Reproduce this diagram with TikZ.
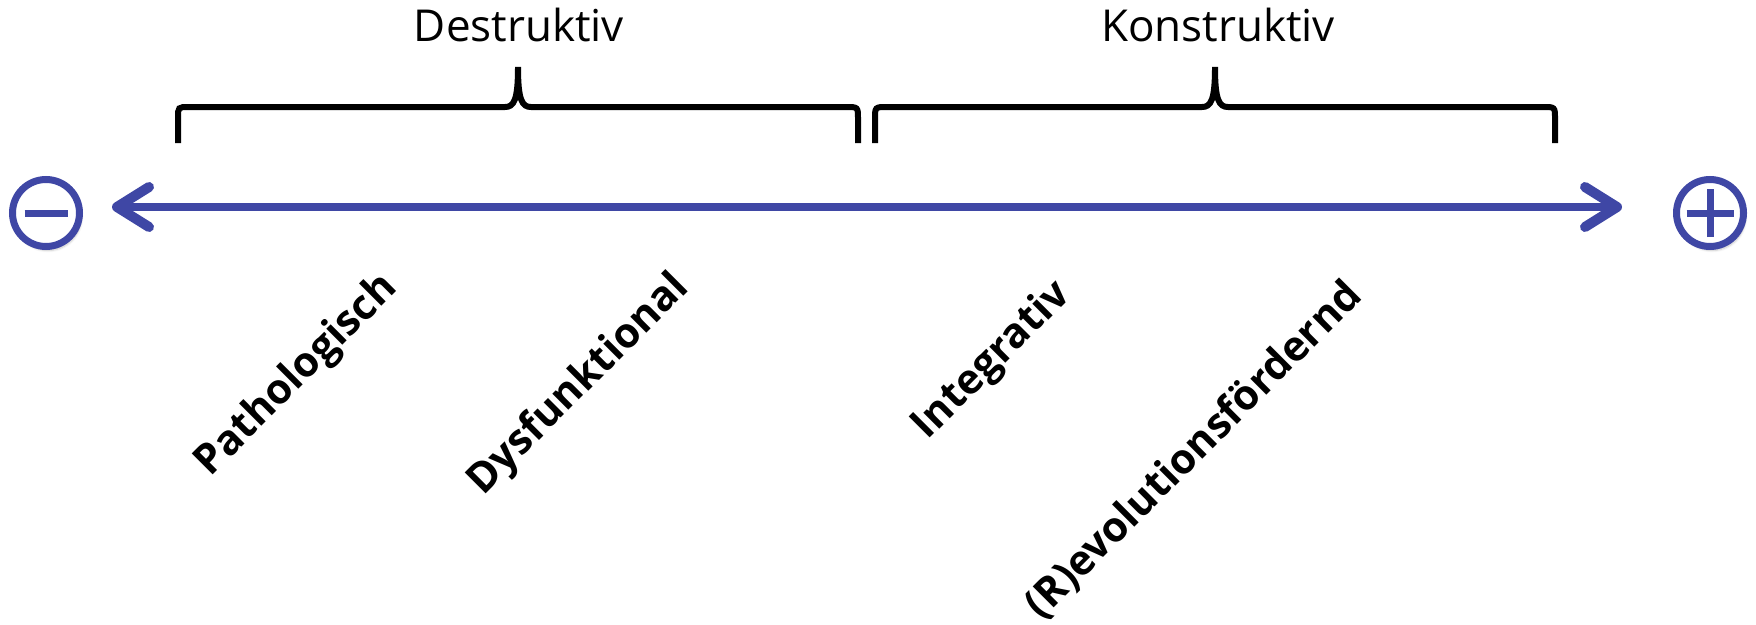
\documentclass[tikz,border=0pt]{standalone}
\usepackage{fontspec}
\setmainfont{Open Sans}
\usetikzlibrary{arrows.meta,shadows.blur}
\definecolor{axisblue}{HTML}{3F47A5}
\begin{document}
\begin{tikzpicture}[x=1pt,y=-1pt,
  sign/.style={circle, draw=axisblue, line width=7pt, fill=white, minimum size=67pt, inner sep=0pt,
    blur shadow={shadow xshift=2pt, shadow yshift=-4pt, shadow blur steps=8, shadow opacity=22}},
  signbar/.style={draw=axisblue, line width=7pt},
  axisline/.style={draw=axisblue, line width=8.5pt,
    {Straight Barb[length=32pt,width=40pt,line width=10pt,round]}-{Straight Barb[length=32pt,width=40pt,line width=10pt,round]}},
  brace/.style={draw=black, line width=6pt},
  group/.style={font=\fontsize{44}{52}\selectfont, anchor=base, inner sep=0pt},
  cat/.style={font=\fontsize{41.5}{48}\selectfont\bfseries, rotate=45, inner sep=0pt}
]
\useasboundingbox (0,0) rectangle (1756,624);

% sign circles
\node[sign] (minus) at (46,213) {};
\node[sign] (plus) at (1710,213) {};
\draw[signbar] ([xshift=-21.5pt]minus.center) -- ([xshift=21.5pt]minus.center);
\draw[signbar] ([xshift=-23.5pt]plus.center) -- ([xshift=23.5pt]plus.center);
\draw[signbar] ([yshift=-24pt]plus.center) -- ([yshift=24pt]plus.center);

% axis
\coordinate (aL) at (112,207);
\coordinate (aR) at (1622,207);
\draw[axisline] (aL) -- (aR);

% braces
\draw[brace] (178,143) -- (178,118) .. controls (178,107) .. (189,107) -- (505,107)
  .. controls (514,107) and (518,100) .. (518,67)
  .. controls (518,100) and (522,107) .. (531,107) -- (846,107)
  .. controls (858,107) .. (858,119) -- (858,143);
\draw[brace] (875,143) -- (875,119) .. controls (875,107) .. (887,107) -- (1202,107)
  .. controls (1211,107) and (1215,100) .. (1215,67)
  .. controls (1215,100) and (1219,107) .. (1228,107) -- (1543,107)
  .. controls (1555,107) .. (1555,119) -- (1555,143);

% group labels
\node[group] (destr) at (519,41) {Destruktiv};
\node[group] (konstr) at (1218,41) {Konstruktiv};

% category labels
\node[cat] (patho) at (297,376) {Pathologisch};
\node[cat] (dysf) at (579,385) {Dysfunktional};
\node[cat] (integ) at (992,361) {Integrativ};
\node[cat] (revol) at (1194,450) {(R)evolutionsfördernd};
\end{tikzpicture}
\end{document}
